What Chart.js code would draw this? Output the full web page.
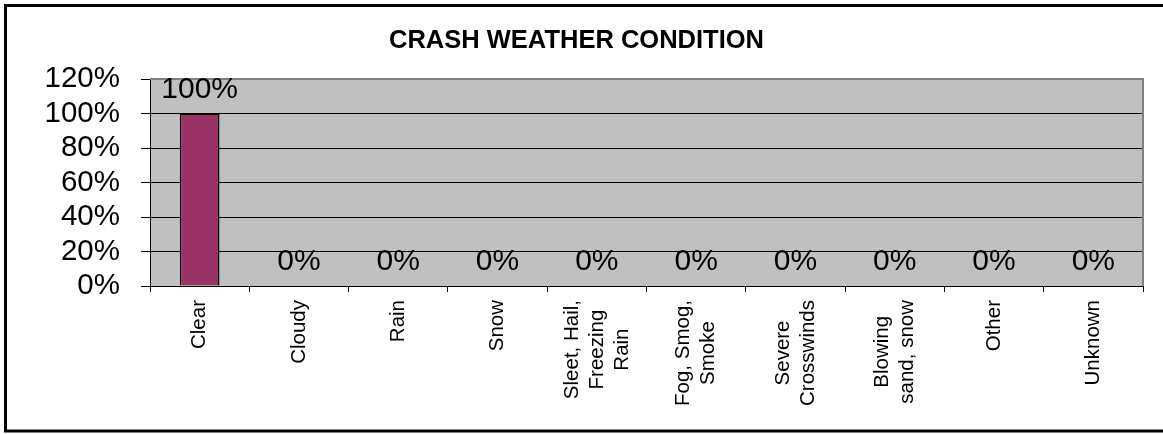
<!DOCTYPE html>
<html>
<head>
<meta charset="utf-8">
<script src="https://cdn.jsdelivr.net/npm/chart.js@4"></script>
<style>
  html, body { margin: 0; padding: 0; background: #fff; }
  #wrap { width: 1163px; height: 434px; }
</style>
</head>
<body>
<div id="wrap"><canvas id="chart" width="1163" height="434"></canvas></div>
<script>
// category labels, one entry per bar (lines as Excel wraps them)
const categories = [
    ['Clear'], ['Cloudy'], ['Rain'], ['Snow'],
    ['Sleet, Hail,', 'Freezing', 'Rain'],
    ['Fog, Smog,', 'Smoke'],
    ['Severe', 'Crosswinds'],
    ['Blowing', 'sand, snow'],
    ['Other'], ['Unknown']
];
const percentValues = [100, 0, 0, 0, 0, 0, 0, 0, 0, 0];
const yTicks = [0, 20, 40, 60, 80, 100, 120];

const FONT = 'Arial, "Liberation Sans", sans-serif';

// silver plot area, grey frame and the outer black border
const framePlugin = {
    id: 'frame',
    beforeDraw(chart) {
        const { ctx, chartArea: a } = chart;
        ctx.save();
        ctx.fillStyle = '#c0c0c0';
        ctx.fillRect(a.left, a.top, a.right - a.left, a.bottom - a.top);
        ctx.restore();
    },
    beforeDatasetsDraw(chart) {
        const { ctx, chartArea: a } = chart;
        ctx.save();
        ctx.strokeStyle = '#808080';
        ctx.lineWidth = 2;
        ctx.beginPath();
        ctx.moveTo(a.left, a.top);
        ctx.lineTo(a.right, a.top);
        ctx.lineTo(a.right, a.bottom);
        ctx.stroke();
        ctx.restore();
    },
    afterDraw(chart) {
        const ctx = chart.ctx;
        ctx.save();
        ctx.strokeStyle = '#000';
        ctx.lineWidth = 3;
        ctx.strokeRect(5.5, 5.5, 1170, 425.5);
        ctx.restore();
    }
};

// "100%" / "0%" above each bar
const valueLabels = {
    id: 'valueLabels',
    afterDatasetsDraw(chart) {
        const ctx = chart.ctx;
        const meta = chart.getDatasetMeta(0);
        ctx.save();
        ctx.font = '30px ' + FONT;
        ctx.fillStyle = '#000';
        ctx.textAlign = 'center';
        ctx.textBaseline = 'alphabetic';
        meta.data.forEach((bar, i) => {
            ctx.fillText(percentValues[i] + '%', bar.x, bar.y - 16);
        });
        ctx.restore();
    }
};

// rotated category labels, lines centred on each other like Excel does
const categoryLabels = {
    id: 'categoryLabels',
    afterDraw(chart) {
        const ctx = chart.ctx;
        const xScale = chart.scales.x;
        ctx.save();
        ctx.font = '20.5px ' + FONT;
        ctx.fillStyle = '#000';
        ctx.textAlign = 'center';
        ctx.textBaseline = 'middle';
        categories.forEach((lines, i) => {
            const cx = xScale.getPixelForValue(i);
            const maxW = Math.max(...lines.map(l => ctx.measureText(l).width));
            const cy = xScale.top + 14 + maxW / 2;
            lines.forEach((line, j) => {
                ctx.save();
                ctx.translate(cx + (j - (lines.length - 1) / 2) * 25, cy);
                ctx.rotate(-Math.PI / 2);
                ctx.fillText(line, 0, 0);
                ctx.restore();
            });
        });
        ctx.restore();
    }
};

new Chart(document.getElementById('chart'), {
    type: 'bar',
    data: {
        labels: categories,
        datasets: [{
            data: percentValues,
            backgroundColor: '#993366',
            borderColor: '#000',
            borderWidth: 1.5,
            categoryPercentage: 0.4,
            barPercentage: 1
        }]
    },
    options: {
        responsive: false,
        animation: false,
        devicePixelRatio: 1,
        layout: { padding: { left: 10, right: 20, top: 0, bottom: 0 } },
        plugins: {
            legend: { display: false },
            tooltip: { enabled: false },
            title: {
                display: true,
                text: 'CRASH WEATHER CONDITION',
                color: '#000',
                font: { family: FONT, size: 25.5, weight: 'bold' },
                padding: { top: 26, bottom: 22.4 }
            }
        },
        scales: {
            x: {
                grid: {
                    offset: true,
                    drawOnChartArea: false,
                    drawTicks: true,
                    tickLength: 6,
                    color: '#000',
                    tickColor: '#000'
                },
                border: { color: '#000', width: 1 },
                ticks: { display: false },
                afterFit: s => { s.height = 148; }
            },
            y: {
                min: yTicks[0],
                max: yTicks[yTicks.length - 1],
                afterBuildTicks: s => { s.ticks = yTicks.map(v => ({ value: v })); },
                ticks: {
                    autoSkip: false,
                    padding: 21,
                    color: '#000',
                    font: { family: FONT, size: 29.5 },
                    callback: v => v + '%'
                },
                grid: {
                    color: c => (c.tick && c.tick.value === 120 ? '#808080' : '#000'),
                    tickColor: '#000',
                    tickLength: 9,
                    lineWidth: 1
                },
                border: { color: '#000', width: 1 },
                afterFit: s => { s.width = 140; }
            }
        }
    },
    plugins: [framePlugin, valueLabels, categoryLabels]
});
</script>
</body>
</html>
